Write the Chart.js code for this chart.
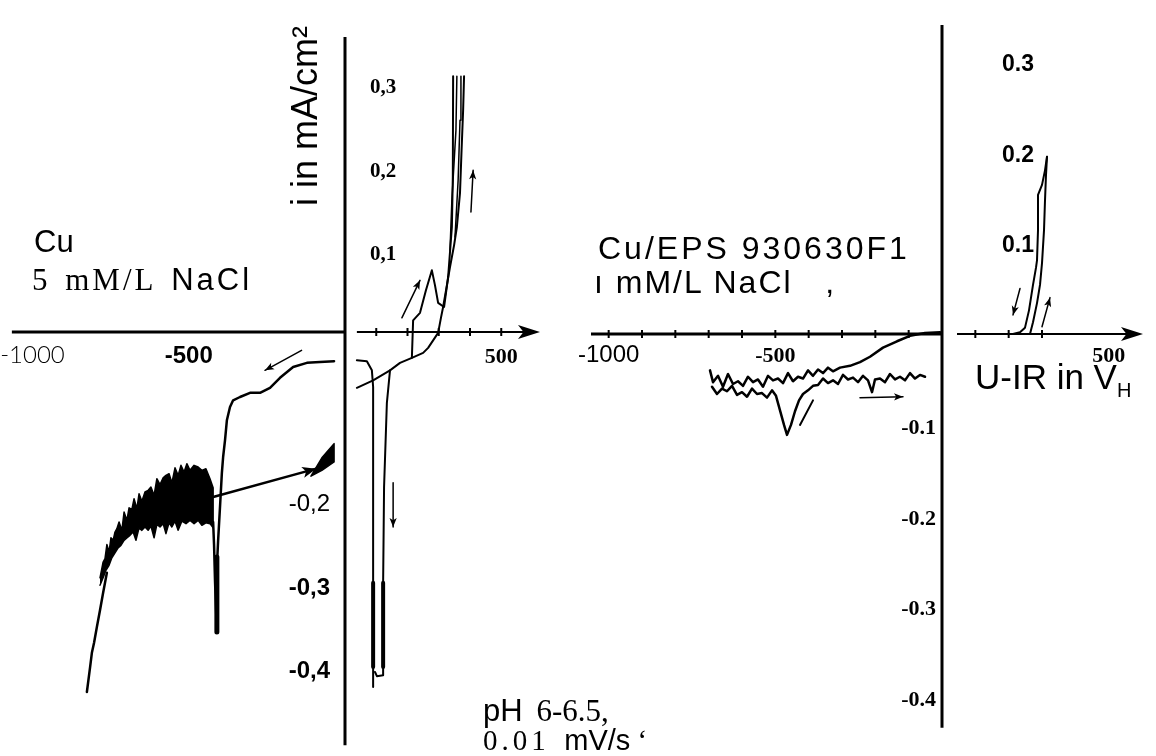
<!DOCTYPE html>
<html>
<head>
<meta charset="utf-8">
<script src="https://cdn.jsdelivr.net/npm/chart.js@4.4.1/dist/chart.umd.min.js"></script>
<style>
  body { margin: 0; background: #fff; }
  #wrap { position: relative; width: 1156px; height: 756px; overflow: hidden; }
  #grafico { position: absolute; left: 0; top: 0; }
  .txt { position: absolute; white-space: nowrap; line-height: 1; color: #000; }
  .sans { font-family: 'Liberation Sans', Arial, sans-serif; }
  .serif { font-family: 'Liberation Serif', 'Times New Roman', serif; }
</style>
</head>
<body>
<div id="wrap">
  <canvas id="grafico" width="1156" height="756"></canvas>
  <div class="txt sans" style="left:205px; top:96px; width:200px; height:40px; line-height:40px; text-align:center; font-size:36px; transform:rotate(-90deg);">i in mA/cm²</div>
  <div class="txt sans" style="left:34px; top:226px; font-size:31px;">Cu</div>
  <div class="txt" style="left:32px; top:264px; font-size:31px; letter-spacing:3px; word-spacing:4px;"><span class="serif">5 mM/L</span> <span class="sans">NaCl</span></div>
  <div class="txt sans" style="left:598px; top:232px; font-size:32px; letter-spacing:3px;">Cu/EPS 930630F1</div>
  <div class="txt sans" style="left:594px; top:266px; font-size:32px; letter-spacing:2px;">ı mM/L NaCl &nbsp;&nbsp;,</div>
  <div class="txt" style="left:483px; top:695px; font-size:31px; word-spacing:6px;"><span class="sans">pH</span> <span class="serif">6-6.5,</span></div>
  <div class="txt" style="left:483px; top:726px; font-size:29px;"><span class="serif" style="letter-spacing:4px;">0.01</span> &nbsp;<span class="sans">mV/s</span> <span class="serif">‘</span></div>
  <div class="txt sans" style="left:975px; top:359px; font-size:35px;">U-IR in V<span style="font-size:20px; position:relative; top:8px;">H</span></div>
</div>
<script>
// ---------------- panel izquierdo: Cu, 5 mM/L NaCl ----------------
const cuTicksX = [-1000, -500, 500];
const cuEtiquetasX = ['-1000', '-500', '500'];
const cuTicksY = [0.3, 0.2, 0.1, -0.2, -0.3, -0.4];
const cuEtiquetasY = ['0,3', '0,2', '0,1', '-0,2', '-0,3', '-0,4'];
const cuMarcas = [100, 200, 300, 400, 500];

// barrido anodico (E en mV, i en mA/cm2)
const cuAnodicoAE = [38, 90, 144, 176, 214, 218, 240, 259, 278, 288, 298, 317, 330, 342, 345, 346];
const cuAnodicoAI = [-0.067, -0.058, -0.046, -0.037, -0.031, 0.014, 0.023, 0.050, 0.074, 0.056, 0.035, 0.030, 0.066, 0.126, 0.186, 0.307];
const cuAnodicoBE = [214, 250, 266, 282, 298, 307, 314, 326, 336, 349, 358, 368, 373, 378, 381];
const cuAnodicoBI = [-0.031, -0.025, -0.019, -0.010, -0.001, 0.017, 0.030, 0.056, 0.078, 0.104, 0.126, 0.167, 0.218, 0.266, 0.307];
const cuAnodicoCE = [336, 342, 355, 358];
const cuAnodicoCI = [0.098, 0.158, 0.242, 0.307];
const cuAnodicoDE = [352, 362, 368, 371];
const cuAnodicoDI = [0.114, 0.182, 0.254, 0.307];

// picos catodicos a la derecha del eje
const cuPicoAE = [38, 70, 86, 90, 90, 90];
const cuPicoAI = [-0.034, -0.035, -0.046, -0.066, -0.301, -0.426];
const cuPicoBE = [144, 134, 125, 122, 122, 102, 96];
const cuPicoBI = [-0.046, -0.085, -0.186, -0.301, -0.412, -0.413, -0.408];
const cuGruesoAE = [90, 90];
const cuGruesoAI = [-0.301, -0.402];
const cuGruesoBE = [122, 122];
const cuGruesoBI = [-0.301, -0.402];

// barrido catodico a la izquierda del eje
const cuCatodicoE = [-35, -80, -122, -166, -208, -240, -272, -304, -336, -358, -368, -378, -384, -390, -394, -400, -406, -410, -410, -416, -419, -422];
const cuCatodicoI = [-0.035, -0.036, -0.037, -0.042, -0.055, -0.067, -0.073, -0.073, -0.078, -0.082, -0.090, -0.106, -0.130, -0.150, -0.169, -0.210, -0.250, -0.282, -0.360, -0.298, -0.256, -0.228];
const cuPuntaE = [-410, -410];
const cuPuntaI = [-0.27, -0.36];

// zona ruidosa (borde superior de izq. a der., borde inferior de der. a izq.)
const cuBandaArribaE = [-784, -774, -768, -762, -755, -749, -742, -736, -730, -723, -714, -707, -698, -691, -682, -675, -666, -659, -650, -640, -630, -621, -611, -602, -592, -582, -573, -563, -554, -544, -534, -525, -515, -506, -496, -483, -470, -458, -445, -432, -422];
const cuBandaArribaI = [-0.295, -0.276, -0.272, -0.255, -0.264, -0.247, -0.250, -0.240, -0.236, -0.228, -0.238, -0.216, -0.226, -0.211, -0.213, -0.200, -0.212, -0.194, -0.203, -0.192, -0.190, -0.186, -0.196, -0.176, -0.183, -0.175, -0.172, -0.170, -0.181, -0.163, -0.172, -0.160, -0.168, -0.158, -0.166, -0.160, -0.162, -0.166, -0.164, -0.176, -0.187];
const cuBandaAbajoE = [-422, -432, -445, -458, -470, -483, -496, -509, -522, -534, -544, -554, -563, -573, -582, -592, -602, -611, -621, -630, -640, -650, -659, -669, -678, -688, -698, -707, -717, -726, -736, -746, -755, -765, -774, -784];
const cuBandaAbajoI = [-0.235, -0.230, -0.229, -0.232, -0.226, -0.230, -0.226, -0.230, -0.227, -0.238, -0.227, -0.234, -0.229, -0.242, -0.230, -0.234, -0.231, -0.247, -0.233, -0.238, -0.234, -0.238, -0.235, -0.250, -0.240, -0.244, -0.247, -0.250, -0.256, -0.259, -0.265, -0.271, -0.280, -0.286, -0.295, -0.304];
const cuColaE = [-762, -774, -784, -794, -803, -810, -816, -826];
const cuColaI = [-0.289, -0.313, -0.334, -0.354, -0.373, -0.385, -0.403, -0.432];

// retorno recto y nudo final
const cuRetornoE = [-422, -92];
const cuRetornoI = [-0.198, -0.164];
const cuNudoE = [-109, -74, -35, -35, -74, -109];
const cuNudoI = [-0.173, -0.151, -0.134, -0.156, -0.166, -0.173];

// flechas [E1, i1, E2, i2]
const cuFlechas = [
  [-139, -0.022, -256, -0.046],
  [182, 0.017, 240, 0.062],
  [403, 0.144, 410, 0.194],
  [154, -0.181, 154, -0.234]
];

// ---------------- panel derecho: Cu/EPS 930630F1 ----------------
const epsTicksX = [-1000, -500, 500];
const epsEtiquetasX = ['-1000', '-500', '500'];
const epsTicksY = [0.3, 0.2, 0.1, -0.1, -0.2, -0.3, -0.4];
const epsEtiquetasY = ['0.3', '0.2', '0.1', '-0.1', '-0.2', '-0.3', '-0.4'];
const epsMarcas = [-1000, -900, -800, -700, -600, -500, -400, -300, -200, -100, 100, 200, 300];

const epsAnodicoAE = [213, 234, 249, 261, 273, 282, 285, 288, 288, 300, 309, 315];
const epsAnodicoAI = [0, 0.002, 0.007, 0.026, 0.054, 0.073, 0.081, 0.114, 0.153, 0.164, 0.180, 0.195];
const epsAnodicoBE = [264, 273, 285, 294, 300, 306, 309, 312, 315];
const epsAnodicoBI = [0, 0.013, 0.034, 0.054, 0.078, 0.114, 0.147, 0.175, 0.195];

const epsIdaE = [-6, -51, -96, -135, -177, -216, -246, -276, -306, -327, -342, -357, -372, -387, -402, -417, -432, -447, -462, -477, -492, -507, -522, -537, -552, -567, -582, -597, -612, -627, -642, -657, -672, -687, -696];
const epsIdaI = [0.002, 0.001, -0.002, -0.008, -0.015, -0.025, -0.031, -0.035, -0.037, -0.041, -0.037, -0.043, -0.039, -0.046, -0.040, -0.049, -0.047, -0.052, -0.043, -0.054, -0.049, -0.051, -0.046, -0.058, -0.050, -0.053, -0.047, -0.057, -0.052, -0.055, -0.044, -0.058, -0.046, -0.053, -0.040];
const epsVueltaE = [-690, -675, -660, -645, -630, -615, -600, -585, -570, -555, -540, -525, -510, -498, -486, -474, -465, -453, -441, -429, -417, -402, -387, -372, -357, -342, -327, -312, -297, -282, -267, -252, -237, -222, -210, -201, -186, -171, -156, -141, -126, -111, -96, -81, -66, -51];
const epsVueltaI = [-0.058, -0.066, -0.060, -0.063, -0.057, -0.067, -0.064, -0.069, -0.060, -0.066, -0.065, -0.070, -0.062, -0.068, -0.084, -0.100, -0.111, -0.100, -0.085, -0.073, -0.066, -0.062, -0.057, -0.056, -0.049, -0.054, -0.051, -0.055, -0.045, -0.050, -0.048, -0.053, -0.046, -0.051, -0.064, -0.050, -0.049, -0.053, -0.044, -0.050, -0.047, -0.051, -0.043, -0.049, -0.045, -0.047];
const epsBarraE = [-426, -387];
const epsBarraI = [-0.100, -0.073];

const epsFlechas = [
  [234, 0.050, 213, 0.021],
  [300, 0.008, 324, 0.040],
  [-246, -0.070, -117, -0.069]
];

/////////////////////////////////////////////////////////////////////////////////////
function puntos(es, is) {
  return es.map((e, k) => ({ x: e, y: is[k] }));
}

function serie(panel, es, is, extra) {
  return Object.assign({
    data: puntos(es, is),
    xAxisID: panel === 'cu' ? 'xL' : 'xR',
    yAxisID: panel === 'cu' ? 'yL' : 'yR',
    borderColor: '#000',
    backgroundColor: '#000',
    borderWidth: 2,
    pointRadius: 0,
    fill: false,
    tension: 0
  }, extra || {});
}

function flechas(panel, lista) {
  return lista.map(f => serie(panel, [f[0], f[2]], [f[1], f[3]], { borderWidth: 1.5, punta: 9 }));
}

const datasets = [
  serie('cu', cuAnodicoAE, cuAnodicoAI),
  serie('cu', cuAnodicoBE, cuAnodicoBI),
  serie('cu', cuAnodicoCE, cuAnodicoCI, { borderWidth: 1.5 }),
  serie('cu', cuAnodicoDE, cuAnodicoDI, { borderWidth: 1.5 }),
  serie('cu', cuPicoAE, cuPicoAI),
  serie('cu', cuPicoBE, cuPicoBI),
  serie('cu', cuGruesoAE, cuGruesoAI, { borderWidth: 4 }),
  serie('cu', cuGruesoBE, cuGruesoBI, { borderWidth: 4 }),
  serie('cu', cuCatodicoE, cuCatodicoI, { borderWidth: 2.5 }),
  serie('cu', cuPuntaE, cuPuntaI, { borderWidth: 5 }),
  serie('cu', cuBandaArribaE.concat(cuBandaAbajoE), cuBandaArribaI.concat(cuBandaAbajoI), { borderWidth: 1.5, fill: 'shape' }),
  serie('cu', cuColaE, cuColaI, { borderWidth: 2.5 }),
  serie('cu', cuRetornoE, cuRetornoI, { borderWidth: 2.5, punta: 14 }),
  serie('cu', cuNudoE, cuNudoI, { borderWidth: 1.5, fill: 'shape' }),
  ...flechas('cu', cuFlechas),
  serie('eps', epsAnodicoAE, epsAnodicoAI),
  serie('eps', epsAnodicoBE, epsAnodicoBI),
  serie('eps', epsIdaE, epsIdaI, { borderWidth: 2.5 }),
  serie('eps', epsVueltaE, epsVueltaI, { borderWidth: 2.5 }),
  serie('eps', epsBarraE, epsBarraI),
  ...flechas('eps', epsFlechas)
];

const panelCu = {
  xId: 'xL', yId: 'yL',
  ejeXInicio: -1066, ejeXDerecha: [38, 624], ejeYArriba: 0.354, ejeYAbajo: -0.496,
  marcas: cuMarcas, ticksX: cuTicksX, etiquetasX: cuEtiquetasX, ticksY: cuTicksY, etiquetasY: cuEtiquetasY,
  fuentesX: ['300 24px Lato, sans-serif', "bold 24px 'Liberation Sans', sans-serif", "bold 22px 'Liberation Serif', serif"],
  fuentesY: ["bold 21px 'Liberation Serif', serif", "bold 21px 'Liberation Serif', serif", "bold 21px 'Liberation Serif', serif",
    "24px 'Liberation Sans', sans-serif",
    "bold 24px 'Liberation Sans', sans-serif",
    "bold 24px 'Liberation Sans', sans-serif"],
  bajaX: 31, sepPos: 25, sepNeg: 15, bajaY: 6
};

const panelEps = {
  xId: 'xR', yId: 'yR',
  ejeXInicio: -1053, ejeXDerecha: [45, 603], ejeYArriba: 0.34, ejeYAbajo: -0.433,
  marcas: epsMarcas, ticksX: epsTicksX, etiquetasX: epsEtiquetasX, ticksY: epsTicksY, etiquetasY: epsEtiquetasY,
  fuentesX: ["24px 'Liberation Sans', sans-serif", "bold 22px 'Liberation Serif', serif", "bold 22px 'Liberation Serif', serif"],
  fuentesY: ["bold 23px 'Liberation Sans', sans-serif",
    "bold 23px 'Liberation Sans', sans-serif",
    "bold 23px 'Liberation Sans', sans-serif",
    "bold 22px 'Liberation Serif', serif", "bold 22px 'Liberation Serif', serif",
    "bold 22px 'Liberation Serif', serif", "bold 22px 'Liberation Serif', serif"],
  bajaX: 28, sepPos: 60, sepNeg: 6, bajaY: 3
};

function linea(ctx, x1, y1, x2, y2, w) {
  ctx.lineWidth = w;
  ctx.beginPath();
  ctx.moveTo(x1, y1);
  ctx.lineTo(x2, y2);
  ctx.stroke();
}

function punta(ctx, x, y, ang, largo, ancho) {
  ctx.save();
  ctx.translate(x, y);
  ctx.rotate(ang);
  ctx.beginPath();
  ctx.moveTo(0, 0);
  ctx.lineTo(-largo, -ancho);
  ctx.lineTo(-largo * 0.75, 0);
  ctx.lineTo(-largo, ancho);
  ctx.closePath();
  ctx.fill();
  ctx.restore();
}

function dibujarPanel(chart, p) {
  const ctx = chart.ctx;
  const sx = chart.scales[p.xId];
  const sy = chart.scales[p.yId];
  const x0 = sx.getPixelForValue(0);
  const y0 = sy.getPixelForValue(0);
  ctx.save();
  ctx.strokeStyle = '#000';
  ctx.fillStyle = '#000';
  linea(ctx, x0, sy.getPixelForValue(p.ejeYArriba), x0, sy.getPixelForValue(p.ejeYAbajo), 3);
  linea(ctx, sx.getPixelForValue(p.ejeXInicio), y0, x0, y0, 3);
  const xa = sx.getPixelForValue(p.ejeXDerecha[0]);
  const xb = sx.getPixelForValue(p.ejeXDerecha[1]);
  linea(ctx, xa, y0, xb - 12, y0, 2);
  punta(ctx, xb, y0, 0, 22, 7);
  p.marcas.forEach(v => {
    const x = sx.getPixelForValue(v);
    linea(ctx, x, y0 - 4, x, y0 + 4, 2);
  });
  ctx.textBaseline = 'alphabetic';
  ctx.textAlign = 'center';
  p.ticksX.forEach((v, k) => {
    ctx.font = p.fuentesX[k];
    ctx.fillText(p.etiquetasX[k], sx.getPixelForValue(v), y0 + p.bajaX);
  });
  ctx.textBaseline = 'middle';
  p.ticksY.forEach((v, k) => {
    ctx.font = p.fuentesY[k];
    const positivo = v > 0;
    ctx.textAlign = positivo ? 'left' : 'right';
    const x = positivo ? x0 + p.sepPos : x0 - p.sepNeg;
    ctx.fillText(p.etiquetasY[k], x, sy.getPixelForValue(v) + p.bajaY);
  });
  ctx.restore();
}

const pluginEjes = {
  id: 'ejes',
  afterDatasetsDraw(chart) {
    dibujarPanel(chart, panelCu);
    dibujarPanel(chart, panelEps);
    const ctx = chart.ctx;
    ctx.save();
    ctx.fillStyle = '#000';
    chart.data.datasets.forEach((ds, i) => {
      if (!ds.punta) return;
      const pts = chart.getDatasetMeta(i).data;
      const a = pts[pts.length - 2];
      const b = pts[pts.length - 1];
      const ang = Math.atan2(b.y - a.y, b.x - a.x);
      punta(ctx, b.x, b.y, ang, ds.punta, ds.punta * 0.4);
    });
    ctx.restore();
  }
};

new Chart(document.getElementById('grafico'), {
  type: 'line',
  data: { datasets: datasets },
  options: {
    responsive: false,
    animation: false,
    events: [],
    devicePixelRatio: 1,
    layout: { padding: 0 },
    plugins: { legend: { display: false }, tooltip: { enabled: false } },
    elements: { line: { borderJoinStyle: 'round', borderCapStyle: 'round' } },
    scales: {
      xL: { type: 'linear', display: false, min: -1104, max: 2595.2 },
      yL: { type: 'linear', display: false, min: -0.5088, max: 0.3984 },
      xR: { type: 'linear', display: false, min: -2826, max: 642 },
      yR: { type: 'linear', display: false, min: -0.4642, max: 0.3674 }
    }
  },
  plugins: [pluginEjes]
});
</script>
</body>
</html>
